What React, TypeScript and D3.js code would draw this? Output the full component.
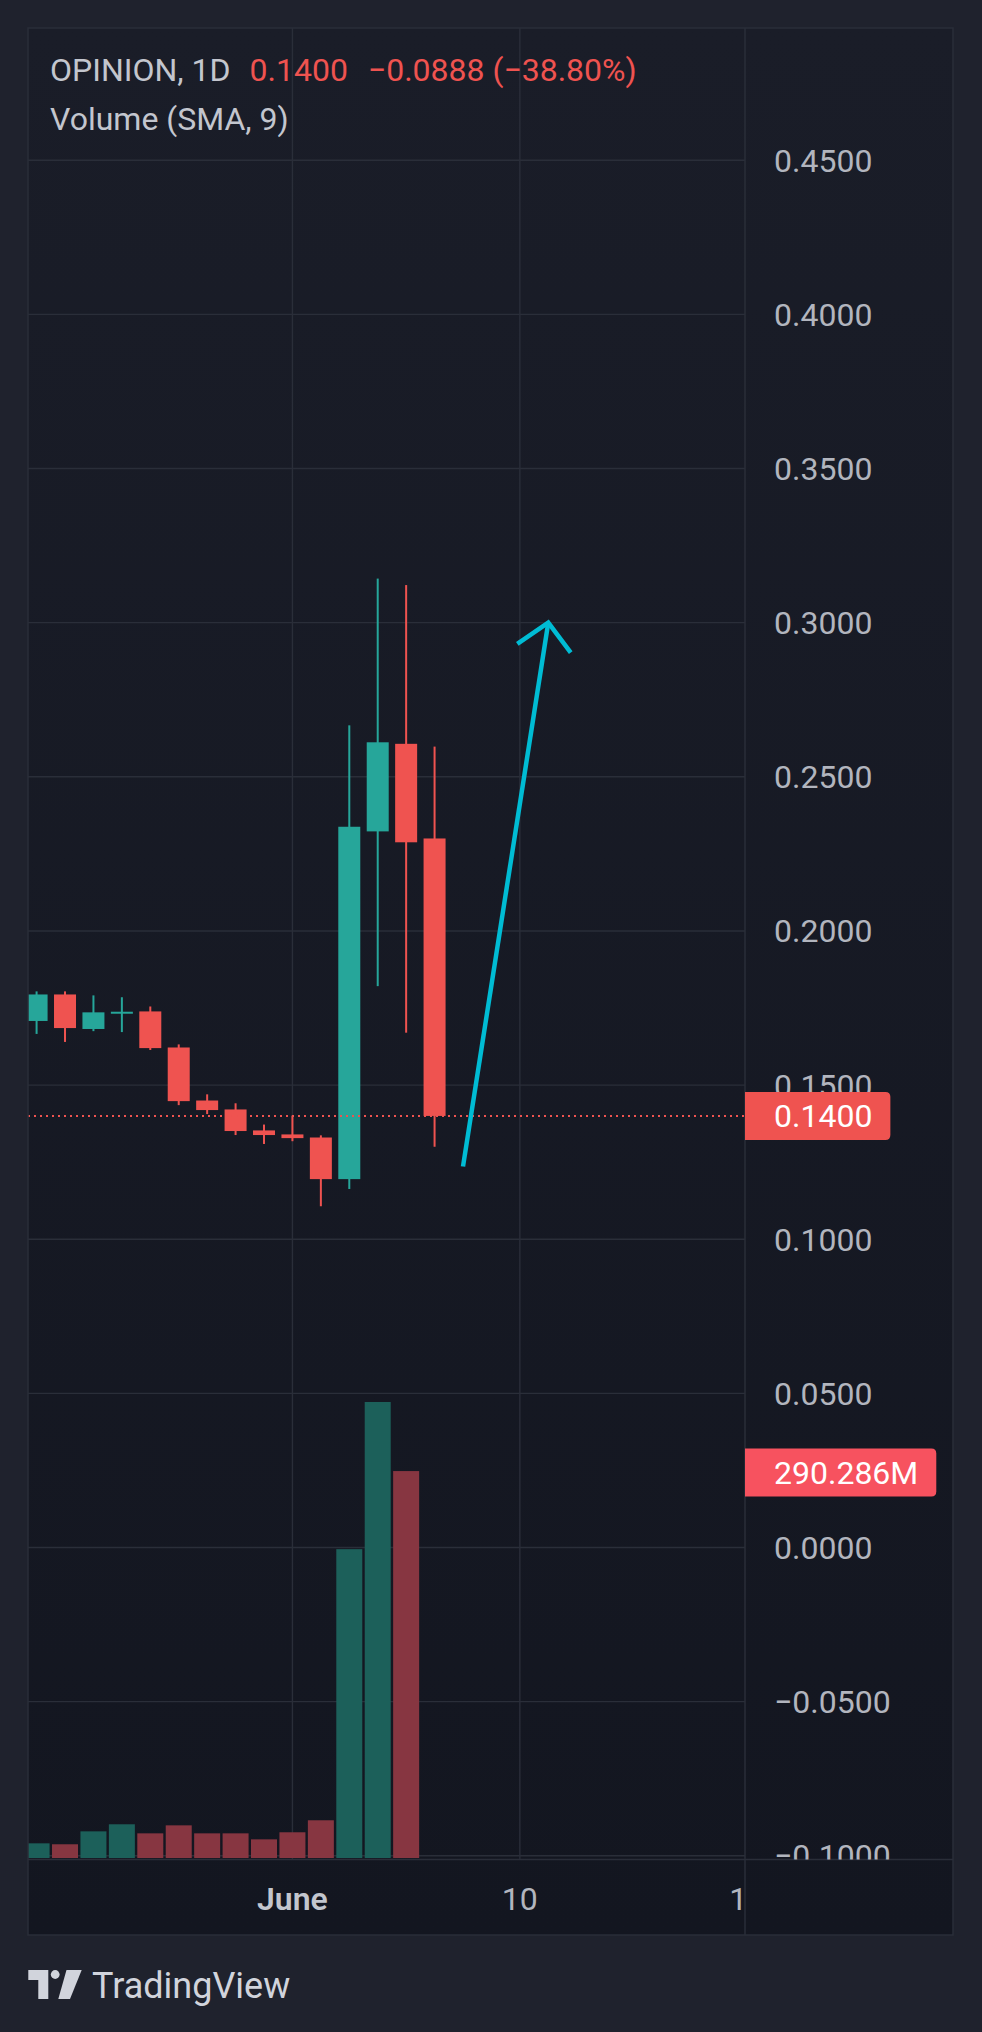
import React, { useEffect, useRef } from "react";
import * as d3 from "d3";

// daily bars, OPINION 1D
const dates = ["05-24", "05-25", "05-26", "05-27", "05-28", "05-29", "05-30", "05-31", "06-01", "06-02", "06-03", "06-04", "06-05", "06-06", "06-07"];
const opens = [0.1708, 0.1794, 0.1682, 0.1735, 0.1739, 0.1622, 0.1450, 0.1421, 0.1353, 0.1340, 0.1330, 0.1195, 0.2323, 0.2607, 0.2300];
const highs = [0.1804, 0.1804, 0.1791, 0.1785, 0.1755, 0.1632, 0.1470, 0.1441, 0.1372, 0.1401, 0.1337, 0.2667, 0.3143, 0.3122, 0.2598];
const lows = [0.1666, 0.1640, 0.1675, 0.1672, 0.1614, 0.1435, 0.1406, 0.1338, 0.1309, 0.1318, 0.1107, 0.1163, 0.1821, 0.1670, 0.1300];
const closes = [0.1794, 0.1685, 0.1736, 0.1738, 0.1620, 0.1448, 0.1419, 0.1351, 0.1338, 0.1328, 0.1195, 0.2338, 0.2612, 0.22876, 0.1400];
// volume in millions (last bar has no volume yet)
const volumes = [11.0, 10.3, 20.0, 25.3, 18.5, 24.5, 18.5, 18.5, 14.0, 19.3, 28.3, 231.7, 342.1, 290.286, NaN];

const priceTicks = [0.45, 0.4, 0.35, 0.3, 0.25, 0.2, 0.15, 0.1, 0.05, 0, -0.05, -0.1];
const timeTickIndex = [9, 17, 25];
const timeTickLabels = ["June", "10", "18"];

// drawn arrow (bar index, price)
const arrowIdx = [15.0, 18.0];
const arrowPrice = [0.1236, 0.3];
const arrowHeadIdx = [16.91, 18.0, 18.79];
const arrowHeadPrice = [0.2931, 0.3, 0.2903];

const W = 982, H = 2032;
const plotL = 28, plotR = 745, plotT = 28, plotB = 1859.5;
const axisR = 953, timeB = 1935;

const GREEN = "#26a69a", RED = "#ef5350";
const font = "Roboto, 'Noto Sans', sans-serif";

const App: React.FC = () => {
  const ref = useRef<SVGSVGElement>(null);

  useEffect(() => {
    const svg = d3.select(ref.current);
    svg.selectAll("*").remove();

    const x = d3.scaleLinear().domain([-0.302, 24.92]).range([plotL, plotR]);
    const y = d3.scaleLinear().domain([-0.1012, 0.4929]).range([plotB, plotT]);
    const yVol = d3.scaleLinear().domain([0, d3.max(volumes.filter(v => !isNaN(v))) as number]).range([1858, 1402]);
    const fmt = d3.format(".4f");

    const defs = svg.append("defs");
    const grad = defs.append("linearGradient").attr("id", "bg").attr("x1", 0).attr("y1", 0).attr("x2", 0).attr("y2", 1);
    grad.append("stop").attr("offset", "0%").attr("stop-color", "#1a1d28");
    grad.append("stop").attr("offset", "100%").attr("stop-color", "#131620");
    defs.append("clipPath").attr("id", "plotClip").append("rect")
      .attr("x", plotL).attr("y", plotT).attr("width", plotR - plotL).attr("height", plotB - plotT);
    defs.append("clipPath").attr("id", "axisClip").append("rect")
      .attr("x", plotR).attr("y", plotT).attr("width", axisR - plotR).attr("height", plotB - plotT);
    defs.append("clipPath").attr("id", "timeClip").append("rect")
      .attr("x", plotL).attr("y", plotB).attr("width", plotR - plotL).attr("height", timeB - plotB);

    svg.append("rect").attr("width", W).attr("height", H).attr("fill", "#1f222d");
    svg.append("rect").attr("x", plotL).attr("y", plotT).attr("width", axisR - plotL).attr("height", timeB - plotT)
      .attr("fill", "url(#bg)");

    const plot = svg.append("g").attr("clip-path", "url(#plotClip)");

    // grid
    plot.selectAll(".hgrid").data(priceTicks).enter().append("line")
      .attr("x1", plotL).attr("x2", plotR)
      .attr("y1", d => y(d)).attr("y2", d => y(d))
      .attr("stroke", "#2a2e39").attr("stroke-width", 1.4);
    plot.selectAll(".vgrid").data(timeTickIndex).enter().append("line")
      .attr("x1", d => x(d)).attr("x2", d => x(d))
      .attr("y1", plotT).attr("y2", plotB)
      .attr("stroke", "#2a2e39").attr("stroke-width", 1.4);

    // volume
    const volData = volumes.map((v, i) => ({ i, v, up: closes[i] >= opens[i] })).filter(d => !isNaN(d.v));
    plot.selectAll(".vol").data(volData).enter().append("rect")
      .attr("x", d => x(d.i) - 13).attr("width", 26)
      .attr("y", d => yVol(d.v)).attr("height", d => yVol(0) - yVol(d.v))
      .attr("fill", d => d.up ? "#1c605a" : "#873641");

    // candles
    const bars = dates.map((d, i) => ({ i, o: opens[i], h: highs[i], l: lows[i], c: closes[i] }));
    const candle = plot.selectAll(".candle").data(bars).enter().append("g");
    candle.append("rect")
      .attr("x", d => x(d.i) - 1).attr("width", 2)
      .attr("y", d => y(d.h)).attr("height", d => y(d.l) - y(d.h))
      .attr("fill", d => d.c >= d.o ? GREEN : RED);
    candle.append("rect")
      .attr("x", d => x(d.i) - 11).attr("width", 22)
      .attr("y", d => y(Math.max(d.o, d.c)))
      .attr("height", d => Math.max(2, Math.abs(y(d.o) - y(d.c))))
      .attr("fill", d => d.c >= d.o ? GREEN : RED);

    // last price line
    const last = closes[closes.length - 1];
    plot.append("line")
      .attr("x1", plotL).attr("x2", plotR)
      .attr("y1", y(last)).attr("y2", y(last))
      .attr("stroke", RED).attr("stroke-width", 2).attr("stroke-dasharray", "2 4");

    // arrow
    const line = d3.line<number>().x((d, k) => x(d)).y((d, k) => y(arrowPrice[k]));
    plot.append("path")
      .attr("d", line(arrowIdx) as string)
      .attr("fill", "none").attr("stroke", "#00bcd4").attr("stroke-width", 4.5);
    const head = d3.line<number>().x(d => x(d)).y((d, k) => y(arrowHeadPrice[k]));
    plot.append("path")
      .attr("d", head(arrowHeadIdx) as string)
      .attr("fill", "none").attr("stroke", "#00bcd4").attr("stroke-width", 4.5)
      .attr("stroke-linejoin", "miter");

    // borders
    const border = "#2a2e39";
    svg.append("rect").attr("x", plotL).attr("y", plotT).attr("width", axisR - plotL).attr("height", timeB - plotT)
      .attr("fill", "none").attr("stroke", border).attr("stroke-width", 1.5);
    svg.append("line").attr("x1", plotR).attr("x2", plotR).attr("y1", plotT).attr("y2", timeB)
      .attr("stroke", border).attr("stroke-width", 1.5);
    svg.append("line").attr("x1", plotL).attr("x2", axisR).attr("y1", plotB).attr("y2", plotB)
      .attr("stroke", border).attr("stroke-width", 1.5);

    // price axis
    const axis = svg.append("g").attr("clip-path", "url(#axisClip)");
    axis.selectAll(".tick").data(priceTicks).enter().append("text")
      .attr("x", 774).attr("y", d => y(d) + 11.5)
      .attr("fill", "#b2b5be").style("font-family", font).style("font-size", "32px")
      .text(d => fmt(d));

    const badge = (value: number, label: string, color: string) => {
      const g = svg.append("g");
      const r = g.append("path").attr("fill", color);
      const t = g.append("text")
        .attr("x", 774).attr("y", value + 11.5)
        .attr("fill", "#ffffff").style("font-family", font).style("font-size", "32px")
        .text(label);
      const tw = (t.node() as SVGTextElement).getComputedTextLength();
      const w = 29 + tw + 18, h = 48, rr = 5, x0 = plotR, y0 = value - h / 2;
      r.attr("d", `M${x0},${y0}H${x0 + w - rr}Q${x0 + w},${y0} ${x0 + w},${y0 + rr}V${y0 + h - rr}Q${x0 + w},${y0 + h} ${x0 + w - rr},${y0 + h}H${x0}Z`);
    };
    badge(y(last), fmt(last), RED);
    const lastVol = volData[volData.length - 1].v;
    badge(yVol(lastVol) + 1.5, d3.format(".3f")(lastVol) + "M", "#f7525f");

    // time axis
    const time = svg.append("g").attr("clip-path", "url(#timeClip)");
    time.selectAll(".tl").data(timeTickIndex).enter().append("text")
      .attr("x", d => x(d)).attr("y", 1909.5)
      .attr("text-anchor", "middle")
      .attr("fill", (d, k) => k === 0 ? "#c3c6ce" : "#b2b5be")
      .style("font-family", font).style("font-size", "32px")
      .style("font-weight", (d, k) => k === 0 ? 600 : 400)
      .text((d, k) => timeTickLabels[k]);

    // legend
    const legend = svg.append("text").attr("x", 50).attr("y", 81)
      .style("font-family", font).style("font-size", "32px");
    legend.append("tspan").attr("fill", "#c3c6ce").text("OPINION, 1D");
    legend.append("tspan").attr("dx", 19).attr("fill", RED).text(fmt(last));
    const prev = closes[closes.length - 2];
    const chg = last - prev;
    legend.append("tspan").attr("dx", 20).attr("fill", RED)
      .text(`${d3.format(".4f")(chg)} (${d3.format(".2f")(chg / prev * 100)}%)`);
    svg.append("text").attr("x", 50).attr("y", 129.5)
      .attr("fill", "#c3c6ce").style("font-family", font).style("font-size", "32px")
      .text("Volume (SMA, 9)");

    // TradingView logo
    const logo = svg.append("g").attr("fill", "#d1d4dc");
    logo.append("path").attr("d", "M28.3,1970H48.3V1999H38.3V1980H28.3Z");
    logo.append("circle").attr("cx", 55.2).attr("cy", 1974.5).attr("r", 4.4);
    logo.append("path").attr("d", "M66.5,1970H81.7L70,1999H58.3Z");
    logo.append("text").attr("x", 92).attr("y", 1997.5)
      .style("font-family", font).style("font-size", "36px")
      .text("TradingView");
  }, []);

  return (
    <svg ref={ref} width={W} height={H} viewBox={`0 0 ${W} ${H}`}
      style={{ position: "absolute", left: 0, top: 0, display: "block" }} />
  );
};

export default App;
